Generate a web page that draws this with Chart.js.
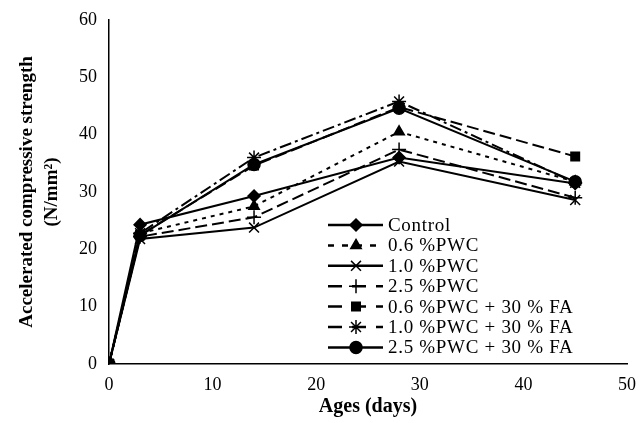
<!DOCTYPE html>
<html>
<head>
<meta charset="utf-8">
<script src="https://cdn.jsdelivr.net/npm/chart.js@4.4.1/dist/chart.umd.min.js"></script>
<style>
  body { margin: 0; background: #fff; }
  #wrap { width: 640px; height: 423px; }
</style>
</head>
<body>
<div id="wrap"><canvas id="graphique"></canvas></div>
<script>
// ages in days
const ages = [0, 3, 14, 28, 45];
const labelsSeries = ["Control", "0.6 %PWC", "1.0 %PWC", "2.5 %PWC",
  "0.6 %PWC + 30 % FA", "1.0 %PWC + 30 % FA", "2.5 %PWC + 30 % FA"];
const control = [0, 24.3, 29.3, 36.0, 31.5];
const pwc06 = [0, 22.8, 27.5, 40.5, 31.8];
const pwc10 = [0, 21.8, 23.8, 35.3, 28.6];
const pwc25 = [0, 22.2, 25.6, 37.4, 29.0];
const pwc06fa = [0, 22.5, 34.6, 44.8, 36.2];
const pwc10fa = [0, 22.8, 36.0, 45.8, 31.6];
const pwc25fa = [0, 22.4, 34.8, 44.6, 31.8];
const yTicks = [0, 10, 20, 30, 40, 50, 60];
const xTicks = [0, 10, 20, 30, 40, 50];

const serif = "'Liberation Serif', 'Times New Roman', serif";
const serie = [control, pwc06, pwc10, pwc25, pwc06fa, pwc10fa, pwc25fa];
const styles = [
  { point: "rectRot", dash: [], legendDash: [], r: 6 },
  { point: "triangle", dash: [4, 5], legendDash: [6, 8], r: 6 },
  { point: "crossRot", dash: [], legendDash: [], r: 7 },
  { point: "cross", dash: [12, 5], legendDash: [14, 10], r: 7 },
  { point: "rect", dash: [12, 5], legendDash: [14, 10], r: 6 },
  { point: "star", dash: [12, 4, 3, 4], legendDash: [14, 10], r: 7 },
  { point: "circle", dash: [], legendDash: [], r: 6 }
];

const datasets = serie.map((vals, i) => ({
  label: labelsSeries[i],
  data: ages.map((a, j) => ({ x: a, y: vals[j] })),
  borderColor: "#000",
  backgroundColor: "#000",
  borderWidth: 2,
  borderDash: styles[i].dash,
  pointStyle: styles[i].point,
  pointRadius: styles[i].r,
  pointBorderWidth: 1.5,
  tension: 0
}));

// legend drawn inside the plot, line sample + marker
const legendeInterne = {
  id: "legendeInterne",
  afterDraw(chart) {
    const ctx = chart.ctx;
    ctx.save();
    ctx.font = "19px " + serif;
    ctx.letterSpacing = "0.7px";
    ctx.textBaseline = "middle";
    ctx.fillStyle = "#000";
    for (let i = 0; i < datasets.length; i++) {
      const y = 225 + i * 20.4;
      ctx.strokeStyle = "#000";
      ctx.lineWidth = 2.5;
      ctx.setLineDash(styles[i].legendDash);
      ctx.beginPath();
      ctx.moveTo(328, y);
      ctx.lineTo(383, y);
      ctx.stroke();
      ctx.setLineDash([]);
      ctx.lineWidth = 1.5;
      Chart.helpers.drawPoint(ctx, { pointStyle: styles[i].point, radius: styles[i].r, rotation: 0, borderWidth: 1.5 }, 356, y);
      ctx.fillText(labelsSeries[i], 388, y + 1);
    }
    ctx.restore();
  }
};

new Chart(document.querySelector("#graphique"), {
  type: "line",
  data: { datasets: datasets },
  options: {
    responsive: true,
    maintainAspectRatio: false,
    animation: false,
    layout: { padding: { top: 20, right: 10, left: 0, bottom: 0 } },
    plugins: { legend: { display: false }, tooltip: { enabled: false } },
    scales: {
      x: {
        type: "linear",
        min: 0, max: 50,
        afterBuildTicks: (axis) => { axis.ticks = xTicks.map(v => ({ value: v })); },
        afterFit: (axis) => { axis.height = 59; },
        grid: { display: false, drawTicks: true, tickLength: 6, color: "#000" },
        border: { color: "#000", width: 1.5 },
        ticks: { color: "#000", font: { family: serif, size: 18 }, padding: 4 },
        title: { display: true, text: "Ages (days)", color: "#000",
          font: { family: serif, size: 20, weight: "bold" }, padding: { top: 0 } }
      },
      y: {
        min: 0, max: 60,
        afterBuildTicks: (axis) => { axis.ticks = yTicks.map(v => ({ value: v })); },
        afterFit: (axis) => { axis.width = 109; },
        grid: { display: false, drawTicks: true, tickLength: 8, color: "#000" },
        border: { color: "#000", width: 1.5 },
        ticks: { color: "#000", font: { family: serif, size: 18 }, padding: 4 },
        title: { display: true, text: ["Accelerated compressive strength", "(N/mm²)"], color: "#000",
          font: { family: serif, size: 19, weight: "bold", lineHeight: 1.35 }, padding: { top: 14 } }
      }
    }
  },
  plugins: [legendeInterne]
});
</script>
</body>
</html>
